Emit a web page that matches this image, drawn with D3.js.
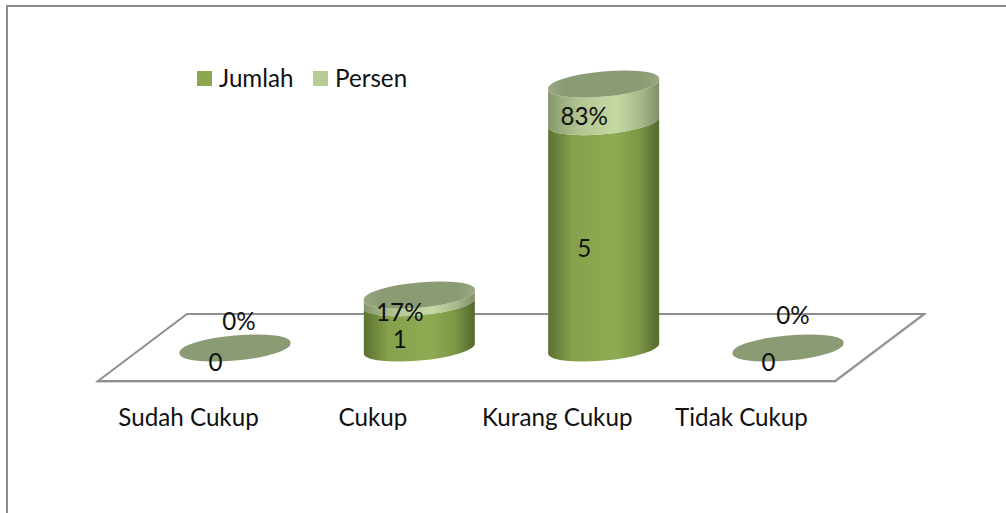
<!DOCTYPE html>
<html>
<head>
<meta charset="utf-8">
<script src="https://cdn.jsdelivr.net/npm/d3@7/dist/d3.min.js"></script>
<style>
html,body{margin:0;padding:0;background:#fff;overflow:hidden}
svg{display:block}
text{font-family:Lato,"Open Sans",sans-serif;font-size:24.2px;fill:#111}
</style>
</head>
<body>
<svg id="chart" width="1006" height="513"></svg>
<script>
const categories = ["Sudah Cukup", "Cukup", "Kurang Cukup", "Tidak Cukup"];
const jumlah = [0, 1, 5, 0];
const persen = [0, 0.17, 0.83, 0];
const persenLabels = ["0%", "17%", "83%", "0%"];
const seriesNames = ["Jumlah", "Persen"];

const svg = d3.select("#chart");
const W = 1006, H = 513;
const floorY = 348;
const x = d3.scalePoint().domain(categories).range([235, 788]);
const y = d3.scaleLinear().domain([0, 5.83]).range([floorY, 84]);

// ellipse geometry of the tilted 3D cylinders
const R = 55.8, r = 12, rot = -5.3;
const hx = 55.5, tilt = 5;
const cap = (cx, cy) =>
  `M${cx - hx},${cy + tilt}A${R},${r} ${rot} 1 1 ${cx + hx},${cy - tilt}A${R},${r} ${rot} 1 1 ${cx - hx},${cy + tilt}Z`;
const side = (cx, y0, y1) =>
  `M${cx - hx},${y1 + tilt}L${cx - hx},${y0 + tilt}A${R},${r} ${rot} 1 0 ${cx + hx},${y0 - tilt}` +
  `L${cx + hx},${y1 - tilt}A${R},${r} ${rot} 1 1 ${cx - hx},${y1 + tilt}Z`;

const defs = svg.append("defs");
function grad(id, stops) {
  const g = defs.append("linearGradient").attr("id", id);
  stops.forEach(s => g.append("stop").attr("offset", s[0]).attr("stop-color", s[1]));
}
grad("gJ", [[0, "#5c7232"], [0.06, "#667e38"], [0.22, "#86a14b"], [0.6, "#8fab52"], [0.82, "#7d9746"], [0.96, "#5c7232"], [1, "#566b2e"]]);
grad("gP", [[0, "#84946a"], [0.1, "#98aa7c"], [0.3, "#b4c794"], [0.62, "#c5d9a3"], [0.85, "#a4b588"], [1, "#7f8e68"]]);
grad("gC", [[0, "#98a982"], [0.15, "#8b9b73"], [0.85, "#8b9b73"], [1, "#98a982"]]);

// outer frame
svg.append("path").attr("d", `M7,${H}L7,6L${W},6`).attr("fill", "none")
  .attr("stroke", "#8c8c8c").attr("stroke-width", 2);

// floor
const floorFrontY = 381, floorBackY = 314;
const floorPts = [[98, floorFrontY], [187, floorBackY], [924, floorBackY], [835, floorFrontY]];
const floorPath = d3.line()(floorPts) + "Z";
svg.append("path").attr("d", floorPath).attr("transform", "translate(0,1)").attr("fill", "none")
  .attr("stroke", "#d4d4d4").attr("stroke-width", 2);
svg.append("path").attr("d", floorPath).attr("fill", "#fff")
  .attr("stroke", "#8e8e8e").attr("stroke-width", 2).attr("stroke-linejoin", "miter");

// cylinders
const g = svg.append("g");
categories.forEach((c, i) => {
  const cx = x(c);
  const yJ = y(jumlah[i]), yT = y(jumlah[i] + persen[i]);
  if (jumlah[i] > 0) g.append("path").attr("d", side(cx, y(0), yJ)).attr("fill", "url(#gJ)");
  if (persen[i] > 0) g.append("path").attr("d", side(cx, yJ, yT)).attr("fill", "url(#gP)");
  g.append("path").attr("d", cap(cx, yT)).attr("fill", jumlah[i] + persen[i] > 0 ? "url(#gC)" : "#8b9b73");
});

// data labels
const labelDx = -19.5, labelDy = 14.5, labelBase = 8;
const zeroPersenOffset = [[4, -26], null, null, [5, -32]];
categories.forEach((c, i) => {
  const cx = x(c);
  g.append("text").attr("text-anchor", "middle")
    .attr("x", cx + labelDx)
    .attr("y", y(jumlah[i] / 2) + labelDy + labelBase)
    .text(jumlah[i]);
  const off = zeroPersenOffset[i];
  const py = y(jumlah[i] + persen[i] / 2);
  g.append("text").attr("text-anchor", "middle")
    .attr("x", off ? cx + off[0] : cx + labelDx)
    .attr("y", (off ? py + off[1] : py + labelDy) + labelBase)
    .text(persenLabels[i]);
});

// category axis
const axis = svg.append("g").attr("transform", "translate(-47,417)")
  .call(d3.axisBottom(x).tickSize(0).tickPadding(0));
axis.select(".domain").remove();
axis.selectAll("text").attr("dy", "0.36em").attr("y", 0)
  .style("font-family", 'Lato,"Open Sans",sans-serif').style("font-size", "24.2px").style("fill", "#111");

// legend
const legendColor = d3.scaleOrdinal().domain(seriesNames).range(["#8ba64f", "#b7cc94"]);
const legendX = d3.scaleOrdinal().domain(seriesNames).range([197, 313]);
const leg = svg.append("g").selectAll("g").data(seriesNames).join("g")
  .attr("transform", d => `translate(${legendX(d)},71)`);
leg.append("rect").attr("width", 15).attr("height", 15).attr("fill", d => legendColor(d));
leg.append("text").attr("x", 22).attr("y", 16).text(d => d);
</script>
</body>
</html>
